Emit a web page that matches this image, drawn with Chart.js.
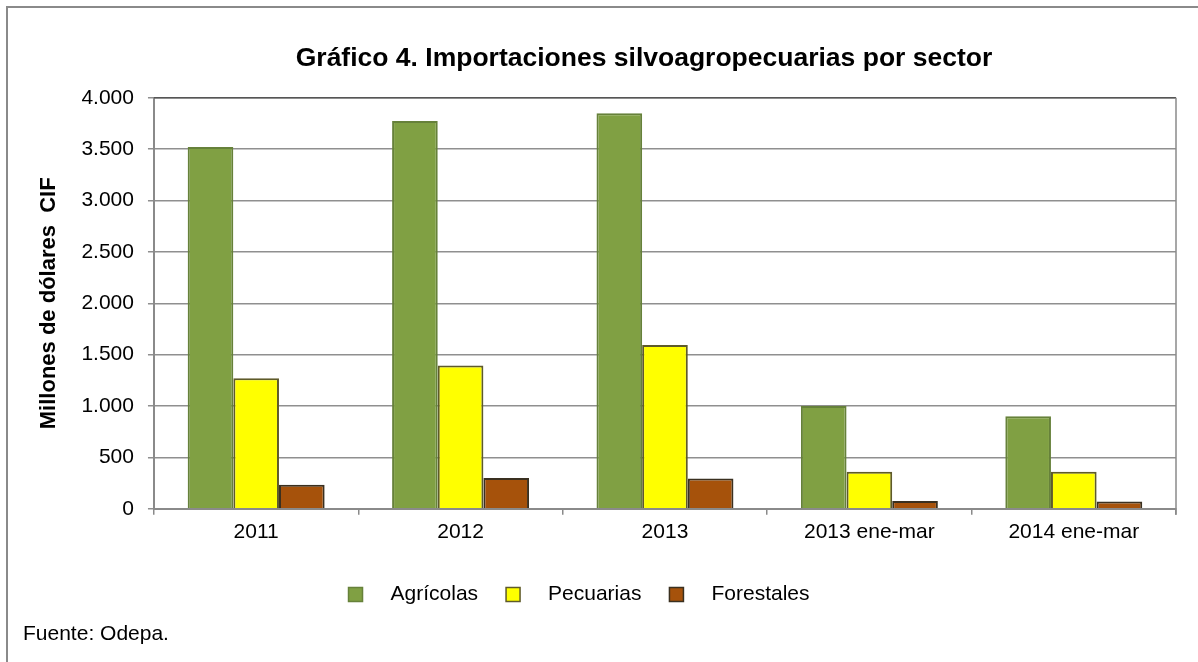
<!DOCTYPE html>
<html>
<head>
<meta charset="utf-8">
<script src="https://cdn.jsdelivr.net/npm/chart.js@4.4.0/dist/chart.umd.min.js"></script>
<style>
  html, body { margin: 0; padding: 0; background: #fff; }
  #wrap { width: 1198px; height: 662px; position: relative; }
</style>
</head>
<body>
<div id="wrap"><canvas id="chart"></canvas></div>
<script>
const categories = ["2011", "2012", "2013", "2013 ene-mar", "2014 ene-mar"];
const agricolas = [3520, 3775, 3850, 1000, 900];
const pecuarias = [1270, 1395, 1595, 360, 360];
const forestales = [235, 300, 295, 75, 72];
const yTicks = [0, 500, 1000, 1500, 2000, 2500, 3000, 3500, 4000];

const FONT = "'Liberation Sans', Arial, sans-serif";

function formatThousands(v) {
  return String(v).replace(/\B(?=(\d{3})+(?!\d))/g, ".");
}

const framePlugin = {
  id: "frame",
  afterLayout(chart) {
    // the original title and legend are not centred on the plot
    if (chart.titleBlock) chart.titleBlock.left += 76;
    if (chart.legend) chart.legend.left -= 54;
  },
  afterDraw(chart) {
    const ctx = chart.ctx;
    const area = chart.chartArea;
    ctx.save();
    // outer border
    ctx.strokeStyle = "#8a8a8a";
    ctx.lineWidth = 2;
    ctx.beginPath();
    ctx.moveTo(7, 662);
    ctx.lineTo(7, 7);
    ctx.lineTo(1198, 7);
    ctx.stroke();
    // plot frame top and right
    ctx.lineWidth = 1.5;
    ctx.strokeStyle = "#555";
    ctx.beginPath();
    ctx.moveTo(area.left, area.top);
    ctx.lineTo(area.right, area.top);
    ctx.stroke();
    ctx.strokeStyle = "#8a8a8a";
    ctx.beginPath();
    ctx.moveTo(area.right, area.top);
    ctx.lineTo(area.right, area.bottom + 6);
    ctx.stroke();
    // source note
    ctx.fillStyle = "#000";
    ctx.font = "21px " + FONT;
    ctx.textBaseline = "alphabetic";
    ctx.fillText("Fuente: Odepa.", 23, 640);
    ctx.restore();
  }
};

const ctx = document.getElementById("chart").getContext("2d");
new Chart(ctx, {
  type: "bar",
  data: {
    labels: categories,
    datasets: [
      {
        label: "Agrícolas",
        data: agricolas,
        backgroundColor: "#80A043",
        borderColor: "#66813A",
        borderWidth: 2,
      },
      {
        label: "Pecuarias",
        data: pecuarias,
        backgroundColor: "#FFFF00",
        borderColor: "#5E5A2A",
        borderWidth: 2,
      },
      {
        label: "Forestales",
        data: forestales,
        backgroundColor: "#A6520B",
        borderColor: "#3A3020",
        borderWidth: 2,
      },
    ],
  },
  options: {
    responsive: true,
    maintainAspectRatio: false,
    animation: { duration: 0 },
    datasets: {
      bar: { categoryPercentage: 0.67, barPercentage: 1.0 },
    },
    layout: {
      padding: { left: 36, right: 22, top: 0, bottom: 47 },
    },
    scales: {
      x: {
        afterFit(axis) {
          axis.height += 6;
        },
        grid: {
          drawOnChartArea: false,
          drawTicks: true,
          tickLength: 6,
          offset: true,
          color: "#8a8a8a",
          lineWidth: 1.5,
        },
        border: { color: "#8a8a8a", width: 2 },
        ticks: {
          color: "#000",
          padding: 5,
          font: { family: FONT, size: 21 },
        },
      },
      y: {
        min: 0,
        max: 4000,
        afterBuildTicks(axis) {
          axis.ticks = yTicks.map((v) => ({ value: v }));
        },
        grid: {
          color: "#8f8f8f",
          lineWidth: 1.5,
          tickLength: 6,
        },
        border: { color: "#8a8a8a", width: 2 },
        ticks: {
          color: "#000",
          padding: 14,
          font: { family: FONT, size: 21 },
          callback: (v) => formatThousands(v),
        },
        title: {
          display: true,
          text: "Millones de dólares  CIF",
          color: "#000",
          padding: { top: 0, bottom: 5 },
          font: { family: FONT, size: 22, weight: "bold" },
        },
      },
    },
    plugins: {
      title: {
        display: true,
        text: "Gráfico 4. Importaciones silvoagropecuarias por sector",
        color: "#000",
        padding: { top: 43, bottom: 23 },
        font: { family: FONT, size: 26.5, weight: "bold" },
      },
      legend: {
        position: "bottom",
        labels: {
          color: "#000",
          boxWidth: 14,
          boxHeight: 14,
          padding: 28,
          font: { family: FONT, size: 21 },
          generateLabels(chart) {
            const items = Chart.defaults.plugins.legend.labels.generateLabels(chart);
            items.forEach((it) => {
              it.text = "   " + it.text;
              it.lineWidth = 1.5;
            });
            return items;
          },
        },
      },
      tooltip: { enabled: false },
    },
  },
  plugins: [framePlugin],
});
</script>
</body>
</html>
